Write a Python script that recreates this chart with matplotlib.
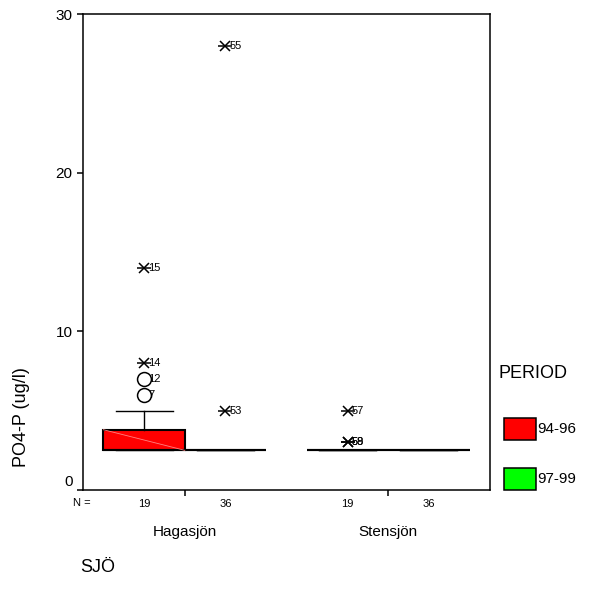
import numpy as np
import matplotlib
matplotlib.use("Agg")
import matplotlib.pyplot as plt
import matplotlib.transforms as mtransforms
from matplotlib.patches import Rectangle

# data
lakes = ["Hagasjön", "Stensjön"]
periods = ["94-96", "97-99"]
period_colors = ["#ff0000", "#00ff00"]
n_counts = [[19, 36], [19, 36]]

# box stats per lake, per period
q1 = [[2.5, 2.5], [2.5, 2.5]]
med = [[2.5, 2.5], [2.5, 2.5]]
q3 = [[3.8, 2.5], [2.5, 2.5]]
whislo = [[2.5, 2.5], [2.5, 2.5]]
whishi = [[5.0, 2.5], [2.5, 2.5]]

# outliers (circles) and extremes (stars): (lake, period, value, case label)
outliers = [(0, 0, 7.0, "12"), (0, 0, 6.0, "7")]
extremes = [(0, 0, 14.0, "15"), (0, 0, 8.0, "14"),
            (0, 1, 28.0, "55"), (0, 1, 5.0, "53"),
            (1, 0, 5.0, "57"), (1, 0, 3.0, "58"), (1, 0, 3.0, "59")]

plt.rcParams['font.family'] = ['Liberation Sans', 'DejaVu Sans']

fig = plt.figure(figsize=(5.9, 6.04), dpi=100)
ax = fig.add_axes([83/590, 1-490/604, (490-83)/590, (490-14)/604])

offs = [-0.2, 0.2]
width = 0.4

def pos(i, j):
    return i + 1 + offs[j]

stats = []
positions = []
for i in range(len(lakes)):
    for j in range(len(periods)):
        stats.append(dict(q1=q1[i][j], med=med[i][j], q3=q3[i][j],
                          whislo=whislo[i][j], whishi=whishi[i][j], fliers=[]))
        positions.append(pos(i, j))

bp = ax.bxp(stats, positions=positions, widths=width, patch_artist=True,
            showfliers=False,
            boxprops=dict(linewidth=1.5, edgecolor="black"),
            medianprops=dict(color="black", linewidth=1.5),
            whiskerprops=dict(color="black", linewidth=1.0),
            capprops=dict(color="black", linewidth=1.0),
            capwidths=0.28)
k = 0
for i in range(len(lakes)):
    for j in range(len(periods)):
        bp['boxes'][k].set_facecolor(period_colors[j])
        # faint diagonal seam seen in the filled boxes
        if q3[i][j] > q1[i][j]:
            x0 = pos(i, j) - width / 2
            ax.plot([x0, x0 + width], [q3[i][j], q1[i][j]], color="#ff8080",
                    lw=0.6, zorder=2.5)
        k += 1

for (i, j, v, lab) in extremes:
    x = pos(i, j)
    ax.plot(x, v, marker='x', color='black', ms=7, mew=1.1, zorder=4)
    ax.plot(x, v, marker='_', color='black', ms=10, mew=1.1, zorder=4)
    ax.annotate(lab, (x, v), xytext=(3, 0), textcoords='offset points',
                va='center', ha='left', fontsize=8)

for (i, j, v, lab) in outliers:
    x = pos(i, j)
    ax.annotate(lab, (x, v), xytext=(3, 0), textcoords='offset points',
                va='center', ha='left', fontsize=8, zorder=3)
    ax.plot(x, v, marker='o', mfc='white', mec='black', ms=10, mew=1.1, zorder=5)

ax.set_xlim(0.5, 2.5)
ax.set_ylim(0, 30)
ax.set_yticks([0, 10, 20, 30])
ax.set_yticklabels(["0", "10", "20", "30"], fontsize=11)
ax.set_xticks([1, 2])
ax.set_xticklabels([])
ax.tick_params(axis='both', direction='out', length=4, width=1.1)
for s in ax.spines.values():
    s.set_linewidth(1.1)

# SPSS puts the "0" label a bit above its tick
lab0 = ax.get_yticklabels()[0]
lab0.set_transform(lab0.get_transform() + mtransforms.ScaledTranslation(0, 9/100, fig.dpi_scale_trans))

# N = counts and group names below axis
fig.text(82/590, 1-503/604, "N =", ha='center', va='center', fontsize=8)
for i in range(len(lakes)):
    for j in range(len(periods)):
        ax.text(pos(i, j), -0.03, str(n_counts[i][j]), transform=ax.get_xaxis_transform(),
                ha='center', va='center', fontsize=8)
    ax.text(i + 1, -0.088, lakes[i], transform=ax.get_xaxis_transform(),
            ha='center', va='center', fontsize=11)

fig.text(22/590, 1-417/604, "PO4-P (ug/l)", rotation=90, ha='center', va='center', fontsize=13)
fig.text(80/590, 1-568/604, "SJÖ", ha='left', va='center', fontsize=13)

# legend
fig.text(498/590, 1-374/604, "PERIOD", ha='left', va='center', fontsize=13)
for j, p in enumerate(periods):
    y = 429 + j * 50
    fig.patches.append(Rectangle((504/590, 1-(y+11)/604), 32/590, 22/604,
                                 transform=fig.transFigure, facecolor=period_colors[j],
                                 edgecolor='black', linewidth=1.1))
    fig.text(537/590, 1-y/604, p, ha='left', va='center', fontsize=11)

fig.savefig("out.png", dpi=100)
